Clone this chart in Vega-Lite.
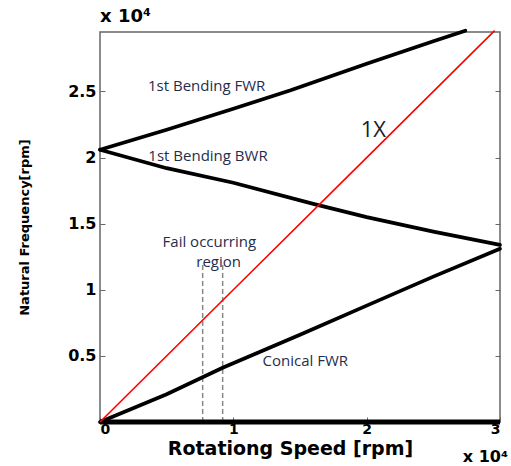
{
  "$schema": "https://vega.github.io/schema/vega-lite/v6.json",
  "autosize": "none",
  "width": 400,
  "height": 390,
  "padding": {"left": 100, "top": 32, "right": 11, "bottom": 44},
  "background": "white",
  "config": {
    "view": {"stroke": "#666", "strokeWidth": 1.5},
    "axis": {"grid": false, "domain": false, "labelFont": "DejaVu Sans", "labelFontWeight": "bold", "labelFontSize": 16, "labelColor": "#000", "titleFont": "DejaVu Sans", "titleFontWeight": "bold", "titleColor": "#000", "tickColor": "#666", "tickSize": -5, "tickWidth": 1}
  },
  "resolve": {"axis": {"y": "independent"}},
  "datasets": {
    "curves": [
      {"s": "base", "x": 0, "y": 0}, {"s": "base", "x": 3, "y": 0},
      {"s": "FWR", "x": 0, "y": 2.06}, {"s": "FWR", "x": 0.5, "y": 2.21}, {"s": "FWR", "x": 1, "y": 2.37}, {"s": "FWR", "x": 1.43, "y": 2.51}, {"s": "FWR", "x": 2, "y": 2.71}, {"s": "FWR", "x": 2.5, "y": 2.88}, {"s": "FWR", "x": 2.74, "y": 2.96},
      {"s": "BWR", "x": 0, "y": 2.06}, {"s": "BWR", "x": 0.5, "y": 1.92}, {"s": "BWR", "x": 1, "y": 1.81}, {"s": "BWR", "x": 1.6, "y": 1.65}, {"s": "BWR", "x": 2, "y": 1.55}, {"s": "BWR", "x": 2.5, "y": 1.44}, {"s": "BWR", "x": 3, "y": 1.34},
      {"s": "Conical", "x": 0, "y": 0}, {"s": "Conical", "x": 0.5, "y": 0.21}, {"s": "Conical", "x": 0.92, "y": 0.41}, {"s": "Conical", "x": 1.5, "y": 0.66}, {"s": "Conical", "x": 2, "y": 0.88}, {"s": "Conical", "x": 2.5, "y": 1.1}, {"s": "Conical", "x": 3, "y": 1.31},
      {"s": "1X", "x": 0, "y": 0}, {"s": "1X", "x": 1, "y": 1}, {"s": "1X", "x": 2, "y": 2}, {"s": "1X", "x": 2.96, "y": 2.96}
    ],
    "fail": [{"x": 0.77, "y0": 0, "y1": 1.21}, {"x": 0.92, "y0": 0, "y1": 1.21}],
    "labels": [
      {"t": "1st Bending FWR", "x": 0.8, "y": 2.54},
      {"t": "1st Bending BWR", "x": 0.81, "y": 2.01},
      {"t": "Fail occurring", "x": 0.82, "y": 1.36},
      {"t": "region", "x": 0.89, "y": 1.21},
      {"t": "Conical FWR", "x": 1.54, "y": 0.46}
    ]
  },
  "layer": [
    {
      "data": {"name": "fail"},
      "mark": {"type": "rule", "color": "#888", "strokeWidth": 1.5, "strokeDash": [5, 3]},
      "encoding": {
        "x": {"field": "x", "type": "quantitative", "scale": {"domain": [0, 3], "nice": false},
          "axis": {"values": [0, 1, 2, 3], "labelExpr": "'' + datum.value", "labelPadding": 5, "labelFontSize": 14, "title": "Rotationg Speed [rpm]", "titleFontSize": 19, "titlePadding": 3, "titleX": 190}},
        "y": {"field": "y0", "type": "quantitative", "scale": {"domain": [0, 2.95], "nice": false},
          "axis": {"values": [0, 0.5, 1, 1.5, 2, 2.5], "labelExpr": "datum.value == 0 ? '' : '' + datum.value", "labelPadding": 9, "title": "Natural Frequency[rpm]", "titleFontSize": 13, "titlePadding": 36}},
        "y2": {"field": "y1"}
      }
    },
    {
      "data": {"name": "curves"},
      "transform": [{"filter": "datum.s == 'base'"}],
      "mark": {"type": "line", "color": "#000", "strokeWidth": 5},
      "encoding": {"x": {"field": "x", "type": "quantitative"}, "y": {"field": "y", "type": "quantitative", "axis": {"orient": "right", "values": [0.5, 1, 1.5, 2, 2.5], "labels": false, "title": null}}}
    },
    {
      "data": {"name": "curves"},
      "transform": [{"filter": "datum.s == 'FWR' || datum.s == 'BWR' || datum.s == 'Conical'"}],
      "mark": {"type": "line", "color": "#000", "strokeWidth": 3.7, "strokeCap": "round"},
      "encoding": {"x": {"field": "x", "type": "quantitative"}, "y": {"field": "y", "type": "quantitative", "axis": null}, "detail": {"field": "s"}}
    },
    {
      "data": {"name": "curves"},
      "transform": [{"filter": "datum.s == '1X'"}],
      "mark": {"type": "line", "color": "#ff0000", "strokeWidth": 1.6},
      "encoding": {"x": {"field": "x", "type": "quantitative"}, "y": {"field": "y", "type": "quantitative", "axis": null}}
    },
    {
      "data": {"name": "labels"},
      "mark": {"type": "text", "font": "Open Sans", "fontSize": 15, "color": "#1f2d4d"},
      "encoding": {"x": {"field": "x", "type": "quantitative"}, "y": {"field": "y", "type": "quantitative", "axis": null}, "text": {"field": "t"}}
    },
    {
      "data": {"values": [{"t": "1X", "x": 2.05, "y": 2.21}]},
      "mark": {"type": "text", "font": "Open Sans", "fontSize": 22, "color": "#1a1a2e"},
      "encoding": {"x": {"field": "x", "type": "quantitative"}, "y": {"field": "y", "type": "quantitative", "axis": null}, "text": {"field": "t"}}
    },
    {
      "data": {"values": [{"t": "x 10⁴", "x": 0, "y": 2.95}]},
      "mark": {"type": "text", "font": "DejaVu Sans", "fontWeight": "bold", "fontSize": 18, "align": "left", "dy": -15, "color": "#000"},
      "encoding": {"x": {"field": "x", "type": "quantitative"}, "y": {"field": "y", "type": "quantitative", "axis": null}, "text": {"field": "t"}}
    },
    {
      "data": {"values": [{"t": "x 10⁴", "x": 3, "y": 0}]},
      "mark": {"type": "text", "font": "DejaVu Sans", "fontWeight": "bold", "fontSize": 16, "align": "right", "baseline": "alphabetic", "dx": 8, "dy": 40, "color": "#000"},
      "encoding": {"x": {"field": "x", "type": "quantitative"}, "y": {"field": "y", "type": "quantitative", "axis": null}, "text": {"field": "t"}}
    }
  ]
}
